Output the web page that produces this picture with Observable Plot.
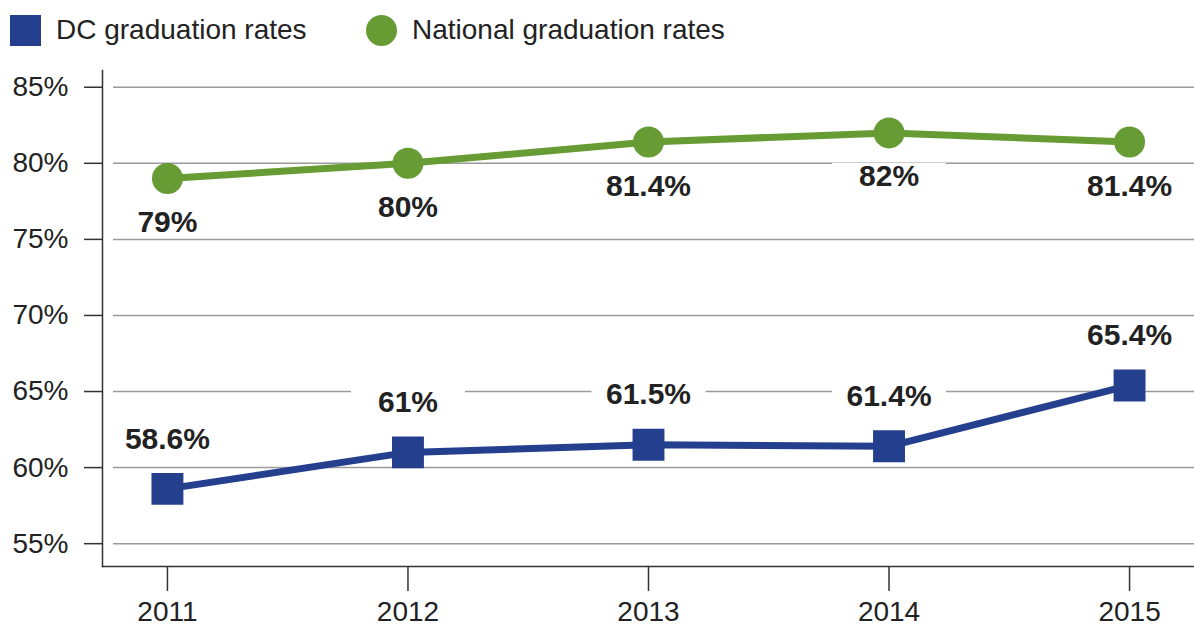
<!DOCTYPE html>
<html>
<head>
<meta charset="utf-8">
<script src="https://cdn.jsdelivr.net/npm/d3@7"></script>
<script src="https://cdn.jsdelivr.net/npm/@observablehq/plot@0.6"></script>
<style>
  html, body { margin: 0; padding: 0; background: #fff; }
  body { width: 1194px; height: 630px; overflow: hidden; font-family: "Liberation Sans", Arial, Helvetica, sans-serif; }
  #legend { height: 60px; position: relative; color: #222; font-size: 28px; }
  .item { position: absolute; top: 14px; display: flex; align-items: center; height: 32px; }
  .sw { width: 31px; height: 31px; margin-right: 15px; }
  svg { display: block; }
</style>
</head>
<body>
<div id="legend"></div>
<div id="chart"></div>
<script>
const years = [2011, 2012, 2013, 2014, 2015];
const dcRates = [58.6, 61, 61.5, 61.4, 65.4];
const nationalRates = [79, 80, 81.4, 82, 81.4];
const yTicks = [55, 60, 65, 70, 75, 80, 85];
const seriesNames = ["DC graduation rates", "National graduation rates"];
const seriesColors = ["#253f8f", "#679b34"];

const fmt = v => v + "%";
const dc = years.map((year, i) => ({year, value: dcRates[i]}));
const nat = years.map((year, i) => ({year, value: nationalRates[i]}));

// legend
const legend = document.getElementById("legend");
const lefts = [10, 366];
seriesNames.forEach((name, i) => {
  const it = document.createElement("div");
  it.className = "item";
  it.style.left = lefts[i] + "px";
  const sw = document.createElement("div");
  sw.className = "sw";
  sw.style.background = seriesColors[i];
  if (i === 1) sw.style.borderRadius = "50%";
  it.appendChild(sw);
  const t = document.createElement("span");
  t.textContent = name;
  it.appendChild(t);
  legend.appendChild(it);
});

// white label-box symbol (fixed pixel size box behind each value label)
const labelBox = {draw(context) { context.rect(-57, -14, 114, 27); }};

const dcDy = -50, natDy = 44;
const labelText = {fontSize: 30, fontWeight: "bold", fill: "#222", text: d => fmt(d.value), x: "year", y: "value"};

const chart = Plot.plot({
  width: 1194,
  height: 570,
  marginLeft: 102,
  marginRight: 0,
  marginTop: 10,
  marginBottom: 64,
  style: {fontFamily: "'Liberation Sans', Arial, Helvetica, sans-serif", color: "#222", background: "white"},
  x: {domain: [2010.73, 2015.27]},
  y: {domain: [53.5, 86.1]},
  marks: [
    Plot.ruleY(yTicks, {stroke: "#9a9a9a", strokeWidth: 1.5, insetLeft: 11}),
    Plot.dot(dc, {x: "year", y: "value", symbol: labelBox, fill: "white", dy: dcDy}),
    Plot.dot(nat, {x: "year", y: "value", symbol: labelBox, fill: "white", dy: natDy}),
    Plot.line(dc, {x: "year", y: "value", stroke: seriesColors[0], strokeWidth: 7}),
    Plot.line(nat, {x: "year", y: "value", stroke: seriesColors[1], strokeWidth: 7}),
    Plot.dot(dc, {x: "year", y: "value", symbol: "square", r: 18, fill: seriesColors[0]}),
    Plot.dot(nat, {x: "year", y: "value", symbol: "circle", r: 15.5, fill: seriesColors[1]}),
    Plot.text(dc, {...labelText, dy: dcDy}),
    Plot.text(nat, {...labelText, dy: natDy}),
    Plot.axisY({ticks: yTicks, tickFormat: fmt, tickSize: 18, tickPadding: 16, fontSize: 28, stroke: "#333", strokeWidth: 1.5, label: null}),
    Plot.axisX({ticks: years, tickFormat: d => String(d), tickSize: 25, tickPadding: 10, fontSize: 28, stroke: "#333", strokeWidth: 1.5, label: null}),
    Plot.frame({anchor: "left", stroke: "#333", strokeWidth: 1.5}),
    Plot.frame({anchor: "bottom", stroke: "#333", strokeWidth: 1.5})
  ]
});
document.getElementById("chart").appendChild(chart);
</script>
</body>
</html>
